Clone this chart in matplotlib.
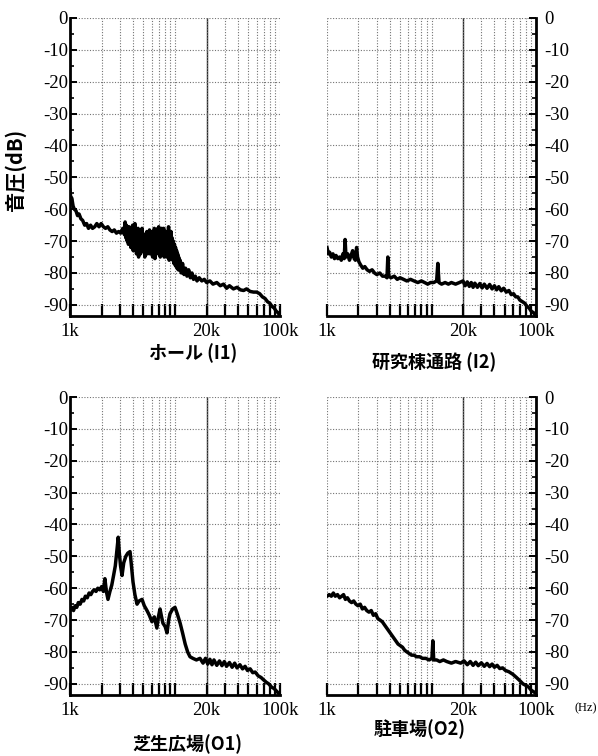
import numpy as np
import matplotlib
matplotlib.use('Agg')
import matplotlib.pyplot as plt
from matplotlib.ticker import FixedLocator, NullLocator, MultipleLocator

plt.rcParams['font.family'] = ['Liberation Serif', 'DejaVu Serif']

# frequency in kHz, level in dB
hall_f = [1.00, 1.02, 1.04, 1.07, 1.10, 1.14, 1.18, 1.22, 1.27, 1.32,
          1.38, 1.44, 1.50, 1.57, 1.64, 1.72, 1.80, 1.89, 1.98, 2.08,
          2.18, 2.29, 2.40, 2.52, 2.64, 2.77, 2.90, 3.04, 3.18,
          3.30, 3.35, 3.40, 3.45, 3.50, 3.55, 3.60, 3.65, 3.70, 3.75,
          3.80, 3.85, 3.90, 3.95, 4.00, 4.05, 4.10, 4.15, 4.20, 4.25,
          4.30, 4.35, 4.40, 4.45, 4.50, 4.55, 4.60, 4.65, 4.70, 4.75,
          4.80, 4.85, 4.90, 4.95, 5.00, 5.08, 5.16, 5.24, 5.32, 5.40,
          5.48, 5.56, 5.64, 5.72, 5.80, 5.88, 5.96, 6.04, 6.12, 6.20,
          6.28, 6.36, 6.44, 6.52, 6.60, 6.68, 6.76, 6.84, 6.92, 7.00,
          7.08, 7.16, 7.24, 7.32, 7.40, 7.48, 7.56, 7.64, 7.72, 7.80,
          7.88, 7.96, 8.08, 8.20, 8.32, 8.44, 8.56, 8.68, 8.80, 8.92,
          9.04, 9.16, 9.28, 9.40, 9.52, 9.64, 9.76, 9.88, 10.0, 10.12,
          10.24, 10.36, 10.48, 10.6, 10.72, 10.84, 10.96, 11.2, 11.5, 11.8,
          12.2, 12.6, 13.0, 13.5, 14.0, 14.5, 15.0, 15.6, 16.2, 17.0,
          18.0, 19.0, 20.0, 21.5, 23.0, 25.0, 27.0, 29.0, 31.0, 33.0,
          36.0, 39.0, 42.0, 45.0, 48.0, 52.0, 56.0, 60.0, 64.0, 68.0,
          72.0, 76.0, 80.0, 84.0, 88.0, 92.0, 96.0, 100.0]
hall_db = [-54, -57, -56.5, -59, -60, -60.5, -62, -61.5, -63, -63.5,
           -65, -64.5, -66, -65, -66, -65.5, -64.5, -65.5, -64.5, -65.5,
           -66, -65.5, -66.5, -67, -66.5, -67.5, -67, -67.5, -66,
           -68, -64, -69, -65, -70, -66, -71, -65.5, -69, -66,
           -72, -67, -70, -65, -73, -67, -71, -64.5, -72, -66,
           -74, -68, -71, -66, -75, -69, -72, -67, -74, -68,
           -71, -66, -73, -67.5, -72, -68, -75, -69, -73, -67,
           -74, -68, -72, -66.5, -74, -69, -73, -67, -75, -68,
           -72, -66, -75.5, -69, -73, -67, -72, -66, -74, -65.5,
           -73, -68, -75, -67, -72, -66, -74, -68, -73, -66,
           -75, -68, -73, -67, -75, -68, -72, -65.5, -76, -68,
           -74, -67, -75, -69, -76, -70, -77, -71, -77.5, -72,
           -78, -73, -78.5, -74, -79, -75, -79, -76, -80, -77,
           -80.5, -78.5, -81, -79, -81.5, -80, -82, -81, -82.5, -81.5,
           -82.5, -82, -83, -82.5, -83.5, -83, -84, -83.5, -84.8, -84,
           -85, -84.5, -85.3, -85.5, -85, -85.8, -86, -86, -86.5, -87.5,
           -88, -89, -89.5, -90.5, -91, -92, -92.5, -93.5]

corr_f = [1.00, 1.03, 1.06, 1.10, 1.14, 1.18, 1.22, 1.27, 1.32, 1.37,
          1.42, 1.46, 1.49, 1.52, 1.58, 1.64, 1.70, 1.76, 1.82, 1.87,
          1.92, 1.96, 2.02, 2.10, 2.20, 2.30, 2.42, 2.55, 2.70, 2.85,
          3.00, 3.20, 3.40, 3.60, 3.75, 3.82, 3.90, 4.10, 4.40, 4.70,
          5.00, 5.40, 5.80, 6.30, 6.80, 7.40, 8.00, 8.60, 9.20, 9.80,
          10.5, 11.2, 11.5, 11.8, 12.5, 13.5, 14.5, 15.5, 17.0, 18.5,
          20.0, 21.0, 22.0, 23.0, 24.0, 25.0, 26.0, 27.5, 29.0, 30.5,
          32.0, 34.0, 36.0, 38.0, 40.0, 42.0, 44.0, 46.5, 49.0, 52.0,
          55.0, 58.0, 61.0, 64.0, 67.0, 70.0, 74.0, 78.0, 82.0, 86.0,
          90.0, 95.0, 100.0]
corr_db = [-72, -74, -73.5, -75, -74, -75.5, -74.5, -75.5, -75, -76,
           -74, -75.5, -69.5, -75, -74, -76, -74.5, -73, -75.5, -76,
           -72, -75, -76.5, -77.5, -78.5, -78, -79, -79.5, -79, -80,
           -80.5, -80, -81, -81, -81.5, -75, -81, -81.5, -81, -82,
           -81.5, -82, -82.5, -82, -82.5, -83, -82.5, -83, -83.5, -83,
           -83, -82.5, -77, -83, -83.5, -83, -83.5, -83, -83.5, -83,
           -82.5, -84, -82.8, -84.2, -83, -84.5, -83.2, -84.5, -83.3, -84.7,
           -83.5, -84.8, -83.6, -85, -84, -85.3, -84.3, -85.6, -84.8, -86,
           -85.5, -86.8, -86.5, -87.5, -87.5, -88.5, -89, -89.5, -90.5, -91,
           -92, -92.5, -93.5]

lawn_f = [1.00, 1.04, 1.08, 1.12, 1.16, 1.20, 1.25, 1.30, 1.35, 1.40,
          1.46, 1.52, 1.58, 1.64, 1.70, 1.77, 1.84, 1.92, 2.00, 2.08,
          2.15, 2.22, 2.30, 2.40, 2.50, 2.60, 2.70, 2.80, 2.88, 2.95,
          3.03, 3.13, 3.25, 3.40, 3.55, 3.73, 3.85, 3.98, 4.15, 4.35,
          4.55, 4.85, 5.10, 5.41, 5.70, 6.03, 6.35, 6.72, 6.95, 7.20,
          7.45, 7.68, 8.05, 8.40, 8.70, 8.96, 9.50, 10.0, 10.5, 11.2,
          11.8, 12.5, 13.2, 13.9, 14.8, 16.0, 17.3, 18.5, 19.5, 20.5,
          21.5, 22.5, 23.5, 25.0, 26.5, 28.0, 29.5, 31.0, 33.0, 35.0,
          37.0, 39.0, 41.5, 44.0, 46.5, 49.0, 52.0, 55.0, 58.0, 62.0,
          66.0, 70.0, 74.0, 78.0, 83.0, 88.0, 94.0, 100.0]
lawn_db = [-67, -66, -67, -65.5, -66, -64.5, -65, -63.5, -64, -62.5,
           -63, -61.5, -62, -61, -60.5, -61, -60, -60.5, -59.5, -61,
           -57, -61, -63.5, -61, -59, -56, -53, -48, -44, -49,
           -53, -56, -52, -50, -49, -48.5, -53, -58, -62, -65,
           -64, -63.5, -65.5, -67, -68.5, -70.5, -69, -72.5, -69, -66.5,
           -69, -71, -72, -74, -70, -68, -66.5, -66, -68, -71,
           -74, -77.5, -80, -81.5, -82, -82.5, -82, -83.5, -82, -83.8,
           -82.3, -84, -82.5, -84.2, -82.8, -84.3, -83, -84.5, -83.3, -84.8,
           -83.5, -85, -84, -85.3, -84.5, -85.8, -85.3, -86.5, -86.3, -87.5,
           -88, -88.8, -89.5, -90, -91, -91.5, -92.5, -93.5]

park_f = [1.00, 1.05, 1.10, 1.15, 1.20, 1.26, 1.32, 1.38, 1.44, 1.50,
          1.57, 1.64, 1.72, 1.80, 1.89, 1.98, 2.08, 2.18, 2.29, 2.40,
          2.52, 2.65, 2.78, 2.92, 3.06, 3.22, 3.38, 3.55, 3.73, 3.92,
          4.12, 4.33, 4.55, 4.78, 5.02, 5.28, 5.55, 5.83, 6.13, 6.45,
          6.80, 7.20, 7.70, 8.20, 8.80, 9.50, 10.1, 10.3, 10.5, 11.2,
          12.0, 13.0, 14.0, 15.5, 17.0, 19.0, 20.5, 22.0, 23.5, 25.0,
          26.5, 28.0, 30.0, 32.0, 34.0, 36.0, 38.0, 40.0, 42.5, 45.0,
          48.0, 51.0, 55.0, 60.0, 65.0, 70.0, 75.0, 80.0, 85.0, 90.0,
          95.0, 100.0]
park_db = [-62.5, -62, -62.5, -61.5, -62.5, -62, -63, -62.5, -62, -63.5,
           -63, -64, -64.5, -64, -65, -65.5, -65, -66.5, -66, -67,
           -67.5, -67, -68.5, -68, -69.5, -70, -70.5, -71.5, -72.5, -73.5,
           -74.5, -75.5, -76.5, -77.5, -78, -78.5, -79.5, -80, -80.5, -81,
           -81, -81.5, -81.5, -82, -82, -82.5, -82, -76.5, -82.5, -82.5,
           -83, -82.5, -83, -83.5, -83, -83.5, -82.8, -84, -83, -84.2,
           -83.2, -84.3, -83.4, -84.5, -83.6, -84.6, -83.8, -84.8, -84.2, -85.2,
           -85, -85.8, -86.2, -87, -88, -89, -90, -90.5, -91, -92,
           -92.5, -93]

titles = ['ホール (I1)', '研究棟通路 (I2)', '芝生広場(O1)', '駐車場(O2)']

x_ticks = [1000, 2000, 3000, 4000, 5000, 6000, 7000, 8000, 9000, 10000,
           20000, 30000, 40000, 50000, 60000, 70000, 80000, 90000, 100000]
x_names = {1000: '1k', 20000: '20k', 100000: '100k'}
y_ticks = [0, -10, -20, -30, -40, -50, -60, -70, -80, -90]

jp = ['Noto Sans CJK JP', 'DejaVu Sans']

fig = plt.figure(figsize=(5.98, 7.56), dpi=100)

# axes boxes in pixels: left, top, right, bottom
boxes = [(70, 18, 280, 316), (327, 18, 536, 316),
         (70, 397, 280, 695), (327, 397, 536, 695)]
data = [(hall_f, hall_db), (corr_f, corr_db), (lawn_f, lawn_db), (park_f, park_db)]
title_pos = [(193, 353), (434, 362), (187, 744), (420, 729)]

W, H = 598.0, 756.0
for i in range(4):
    l, t, r, b = boxes[i]
    ax = fig.add_axes([l / W, 1 - b / H, (r - l) / W, (b - t) / H])
    f, db = data[i]
    ax.plot(np.array(f) * 1000, db, color='black', lw=2.5, solid_joinstyle='round')
    ax.set_xscale('log')
    ax.set_xlim(1000, 100000)
    ax.set_ylim(-93.5, 0)

    ax.xaxis.set_major_locator(FixedLocator(x_ticks))
    ax.xaxis.set_minor_locator(NullLocator())
    ax.set_xticklabels([x_names.get(v, '') for v in x_ticks])
    ax.yaxis.set_major_locator(FixedLocator(y_ticks))
    ax.yaxis.set_minor_locator(MultipleLocator(5))
    ax.set_yticklabels([str(v) for v in y_ticks])

    ax.grid(True, which='major', ls=(0, (1, 1.5)), color='0.45', lw=0.8)
    ax.axvline(20000, color='0.15', lw=1.0, zorder=1)

    right = (i % 2 == 1)
    ax.spines['top'].set_visible(False)
    if right:
        ax.spines['left'].set_visible(False)
        ax.yaxis.tick_right()
    else:
        ax.spines['right'].set_visible(False)
    for s in ['left', 'right', 'bottom']:
        ax.spines[s].set_linewidth(2.0)

    ax.tick_params(axis='x', direction='in', length=9, width=1.6, pad=5,
                   labelsize=13.5)
    ax.tick_params(axis='y', which='major', direction='in', length=5, width=1.4,
                   pad=6 if right else 1.5, labelsize=13.5)
    ax.tick_params(axis='y', which='minor', direction='in', length=3, width=1.2)

    tx, ty = title_pos[i]
    fig.text(tx / W, 1 - ty / H, titles[i], ha='center', va='center',
             family=jp, fontsize=13, fontweight='bold')

fig.text(15 / W, 1 - 170 / H, '音圧(dB)', rotation=90, ha='center', va='center',
         family=jp, fontsize=14.5, fontweight='bold')
fig.text(597 / W, 1 - 708 / H, '(Hz)', ha='right', va='center', fontsize=9)

fig.savefig('out.png', dpi=100)
